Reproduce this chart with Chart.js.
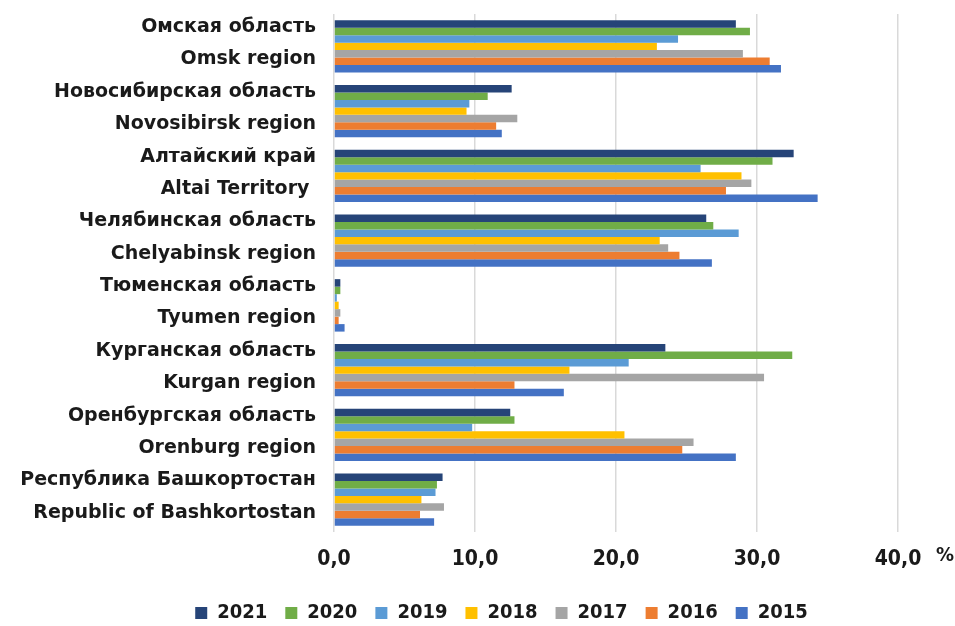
<!DOCTYPE html>
<html><head><meta charset="utf-8">
<script src="https://cdn.jsdelivr.net/npm/chart.js@4/dist/chart.umd.min.js"></script>
<style>html,body{margin:0;padding:0;background:#fff}#wrap{width:955px;height:626px}</style>
</head><body><div id="wrap"><canvas id="c"></canvas></div>
<script>
const regionsRu = ["Омская область","Новосибирская область","Алтайский край","Челябинская область","Тюменская область","Курганская область","Оренбургская область","Республика Башкортостан"];
const regionsEn = ["Omsk region","Novosibirsk region","Altai Territory ","Chelyabinsk region","Tyumen region","Kurgan region","Orenburg region","Republic of Bashkortostan"];
const years = ["2021","2020","2019","2018","2017","2016","2015"];
const v2021 = [28.5, 12.6, 32.6, 26.4, 0.45, 23.5, 12.5, 7.7];
const v2020 = [29.5, 10.9, 31.1, 26.9, 0.45, 32.5, 12.8, 7.3];
const v2019 = [24.4, 9.6, 26.0, 28.7, 0.2, 20.9, 9.8, 7.2];
const v2018 = [22.9, 9.4, 28.9, 23.1, 0.33, 16.7, 20.6, 6.2];
const v2017 = [29.0, 13.0, 29.6, 23.7, 0.45, 30.5, 25.5, 7.8];
const v2016 = [30.9, 11.5, 27.8, 24.5, 0.33, 12.8, 24.7, 6.1];
const v2015 = [31.7, 11.9, 34.3, 26.8, 0.75, 16.3, 28.5, 7.1];
const xTicks = [0, 10, 20, 30, 40];
const colors = ["#264478","#70AD47","#5B9BD5","#FFC000","#A5A5A5","#ED7D31","#4472C4"];
const series = [v2021, v2020, v2019, v2018, v2017, v2016, v2015];

const labels = regionsRu.map((r, i) => [r, regionsEn[i]]);
const condensed = "'DejaVu Sans Condensed', 'Liberation Sans Narrow', sans-serif";

const percentPlugin = {
  id: 'percent',
  afterLayout(chart) {
    // centre the legend row the way the reference does (slightly right of the canvas centre)
    chart.legend.left += 24;
    chart.legend.right += 24;
  },
  afterDraw(chart) {
    const x = chart.scales.x;
    const ctx = chart.ctx;
    ctx.save();
    ctx.font = "bold 20px " + condensed;
    ctx.fillStyle = "#1a1a1a";
    ctx.textAlign = "left";
    ctx.textBaseline = "middle";
    ctx.fillText("%", x.getPixelForValue(40) + 38, 556);
    ctx.restore();
  }
};

new Chart(document.getElementById('c'), {
  type: 'bar',
  data: {
    labels: labels,
    datasets: years.map((y, i) => ({
      label: y,
      data: series[i],
      backgroundColor: colors[i],
      borderWidth: 0,
      categoryPercentage: 0.81,
      barPercentage: 1.0
    }))
  },
  options: {
    indexAxis: 'y',
    responsive: true,
    maintainAspectRatio: false,
    animation: false,
    layout: { padding: { top: 14, right: 0, left: 0, bottom: -7 } },
    scales: {
      x: {
        min: 0, max: 40,
        afterBuildTicks(scale) { scale.ticks = xTicks.map(v => ({ value: v })); },
        grid: { color: "#d9d9d9", lineWidth: 1.5, drawTicks: false },
        border: { display: false },
        ticks: {
          padding: 15,
          color: "#1a1a1a",
          font: { family: condensed, size: 21, weight: 'bold' },
          callback: v => v.toFixed(1).replace('.', ',')
        },
        afterFit(scale) { scale.height = 53; scale.paddingLeft = 0; scale.paddingRight = 0; }
      },
      y: {
        grid: { display: false, drawTicks: false },
        border: { display: false },
        ticks: {
          autoSkip: false,
          padding: 18,
          labelOffset: -3,
          color: "#1a1a1a",
          font: { family: "'DejaVu Sans', sans-serif", size: 19, weight: 'bold', lineHeight: 1.7 }
        },
        afterFit(scale) { scale.width = 334; scale.paddingTop = 0; scale.paddingBottom = 0; }
      },
      y2: {
        axis: 'y',
        type: 'linear',
        position: 'right',
        grid: { display: false, drawTicks: false },
        border: { display: false },
        ticks: { display: false },
        afterFit(scale) { scale.width = 57; scale.paddingTop = 0; scale.paddingBottom = 0; }
      }
    },
    plugins: {
      legend: {
        position: 'bottom',
        labels: {
          boxWidth: 12, boxHeight: 12, padding: 18,
          color: "#1a1a1a",
          font: { family: condensed, size: 20, weight: 'bold' }
        }
      },
      tooltip: { enabled: false }
    }
  },
  plugins: [percentPlugin]
});
</script></body></html>
